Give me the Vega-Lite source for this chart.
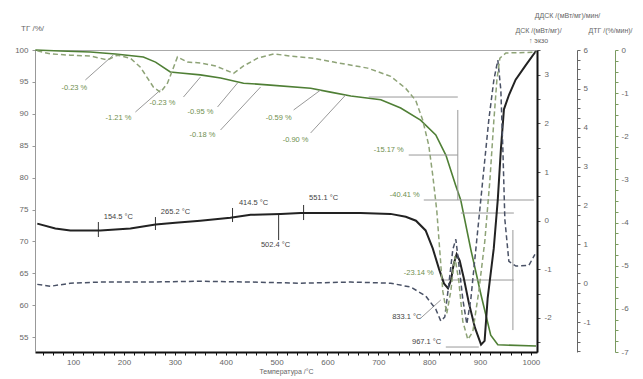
{
  "$schema": "https://vega.github.io/schema/vega-lite/v6.json",
  "width": 502,
  "height": 302,
  "autosize": "none",
  "padding": {"left": 35, "top": 50, "right": 106, "bottom": 27},
  "background": "white",
  "config": {
    "view": {"stroke": "#aaa", "strokeWidth": 1},
    "font": "Liberation Sans",
    "axis": {"labelFont": "Liberation Sans", "titleFont": "Liberation Sans", "grid": false, "labelColor": "#666", "titleColor": "#666", "labelFontSize": 8, "titleFontSize": 7, "titleFontWeight": "normal", "tickSize": 3}
  },
  "datasets": {
    "tg": [
      {"t": 25.6, "tg": 100}, {"t": 74.8, "tg": 99.84}, {"t": 133.9, "tg": 99.69}, {"t": 183, "tg": 99.37},
      {"t": 238, "tg": 98.9}, {"t": 262, "tg": 98.1}, {"t": 291, "tg": 96.55}, {"t": 311, "tg": 96.4},
      {"t": 350, "tg": 96.1}, {"t": 390, "tg": 95.6}, {"t": 435, "tg": 94.8}, {"t": 488, "tg": 94.5},
      {"t": 567, "tg": 94.0}, {"t": 606, "tg": 93.4}, {"t": 646, "tg": 92.8}, {"t": 705, "tg": 92.2},
      {"t": 744, "tg": 90.9}, {"t": 783, "tg": 89.0}, {"t": 813, "tg": 86.7}, {"t": 833, "tg": 83.5},
      {"t": 852, "tg": 78.8}, {"t": 862, "tg": 76.5}, {"t": 882, "tg": 68.7}, {"t": 902, "tg": 61.6},
      {"t": 921, "tg": 55.3}, {"t": 935, "tg": 53.8}, {"t": 1010, "tg": 53.6}
    ],
    "dsc": [
      {"t": 29.5, "dsc": -0.06}, {"t": 65, "dsc": -0.16}, {"t": 94.5, "dsc": -0.2}, {"t": 153.5, "dsc": -0.2},
      {"t": 212.6, "dsc": -0.16}, {"t": 262, "dsc": -0.08}, {"t": 301, "dsc": -0.04}, {"t": 350, "dsc": 0.0},
      {"t": 409, "dsc": 0.06}, {"t": 449, "dsc": 0.12}, {"t": 508, "dsc": 0.14}, {"t": 547, "dsc": 0.16},
      {"t": 665, "dsc": 0.16}, {"t": 724, "dsc": 0.14}, {"t": 754, "dsc": 0.08}, {"t": 774, "dsc": 0.0},
      {"t": 793, "dsc": -0.2}, {"t": 807, "dsc": -0.57}, {"t": 819, "dsc": -0.98}, {"t": 829, "dsc": -1.29},
      {"t": 837, "dsc": -1.39}, {"t": 843, "dsc": -1.22}, {"t": 848, "dsc": -0.9}, {"t": 854, "dsc": -0.69},
      {"t": 860, "dsc": -0.82}, {"t": 868, "dsc": -1.18}, {"t": 878, "dsc": -1.69}, {"t": 890, "dsc": -2.2},
      {"t": 902, "dsc": -2.55}, {"t": 909, "dsc": -2.47}, {"t": 915, "dsc": -1.59}, {"t": 927, "dsc": -0.57},
      {"t": 935, "dsc": 0.45}, {"t": 941, "dsc": 1.47}, {"t": 947, "dsc": 2.29}, {"t": 957, "dsc": 2.59},
      {"t": 970, "dsc": 2.9}, {"t": 990, "dsc": 3.2}, {"t": 1010, "dsc": 3.49}
    ],
    "ddsc": [
      {"t": 29.5, "ddsc": -0.03}, {"t": 55.1, "ddsc": -0.08}, {"t": 94.5, "ddsc": 0.0}, {"t": 153.5, "ddsc": 0.03},
      {"t": 252, "ddsc": 0.03}, {"t": 350.4, "ddsc": 0.05}, {"t": 448.8, "ddsc": 0.03}, {"t": 547.2, "ddsc": 0.0},
      {"t": 645.7, "ddsc": 0.03}, {"t": 724.4, "ddsc": 0.0}, {"t": 763.8, "ddsc": -0.1}, {"t": 793.3, "ddsc": -0.33},
      {"t": 813, "ddsc": -0.67}, {"t": 822.8, "ddsc": -0.97}, {"t": 830.7, "ddsc": -0.87}, {"t": 838.6, "ddsc": -0.03},
      {"t": 846.5, "ddsc": 0.87}, {"t": 852.4, "ddsc": 1.13}, {"t": 858.3, "ddsc": 0.49}, {"t": 866.1, "ddsc": -0.41},
      {"t": 874, "ddsc": -1.05}, {"t": 881.9, "ddsc": -0.41}, {"t": 893.7, "ddsc": 1.13}, {"t": 905.5, "ddsc": 2.67},
      {"t": 917.3, "ddsc": 4.21}, {"t": 927.2, "ddsc": 5.23}, {"t": 935, "ddsc": 5.74}, {"t": 940.9, "ddsc": 4.97},
      {"t": 944.9, "ddsc": 3.44}, {"t": 948.8, "ddsc": 1.64}, {"t": 956.7, "ddsc": 0.56}, {"t": 970.5, "ddsc": 0.44},
      {"t": 996.1, "ddsc": 0.46}, {"t": 1007.9, "ddsc": 0.74}
    ],
    "dtg": [
      {"t": 29.5, "dtg": -0.02}, {"t": 55.1, "dtg": -0.09}, {"t": 94.5, "dtg": -0.12}, {"t": 133.9, "dtg": -0.14},
      {"t": 167.3, "dtg": -0.23}, {"t": 187, "dtg": -0.12}, {"t": 212.6, "dtg": -0.19}, {"t": 232.3, "dtg": -0.4},
      {"t": 257.9, "dtg": -0.86}, {"t": 271.7, "dtg": -0.98}, {"t": 285.4, "dtg": -0.77}, {"t": 295.3, "dtg": -0.47},
      {"t": 305.1, "dtg": -0.16}, {"t": 324.8, "dtg": -0.28}, {"t": 350.4, "dtg": -0.3}, {"t": 379.9, "dtg": -0.37},
      {"t": 415.4, "dtg": -0.54}, {"t": 435, "dtg": -0.37}, {"t": 462.6, "dtg": -0.19}, {"t": 494.1, "dtg": -0.09},
      {"t": 527.6, "dtg": -0.14}, {"t": 572.8, "dtg": -0.19}, {"t": 612.2, "dtg": -0.28}, {"t": 679.1, "dtg": -0.42},
      {"t": 724.4, "dtg": -0.61}, {"t": 753.9, "dtg": -0.89}, {"t": 773.6, "dtg": -1.17}, {"t": 787.4, "dtg": -1.63},
      {"t": 799.2, "dtg": -2.21}, {"t": 807.1, "dtg": -2.91}, {"t": 815, "dtg": -3.73}, {"t": 820.9, "dtg": -4.66},
      {"t": 826.8, "dtg": -5.59}, {"t": 834.6, "dtg": -6.11}, {"t": 842.5, "dtg": -5.59}, {"t": 850.4, "dtg": -4.78},
      {"t": 858.3, "dtg": -5.36}, {"t": 866.1, "dtg": -6.29}, {"t": 876, "dtg": -6.71}, {"t": 885.8, "dtg": -6.53},
      {"t": 897.6, "dtg": -5.59}, {"t": 909.4, "dtg": -4.43}, {"t": 919.3, "dtg": -3.03}, {"t": 927.2, "dtg": -1.63},
      {"t": 933.1, "dtg": -0.7}, {"t": 939, "dtg": -0.19}, {"t": 950.8, "dtg": -0.07}, {"t": 1010, "dtg": -0.05}
    ],
    "pct": [
      {"t": 102.4, "tg": 94.04, "label": "-0.23 %"},
      {"t": 189, "tg": 89.34, "label": "-1.21 %"},
      {"t": 275.6, "tg": 91.69, "label": "-0.23 %"},
      {"t": 350.4, "tg": 90.28, "label": "-0.95 %"},
      {"t": 354.3, "tg": 86.68, "label": "-0.18 %"},
      {"t": 504, "tg": 89.34, "label": "-0.59 %"},
      {"t": 537.4, "tg": 85.89, "label": "-0.90 %"},
      {"t": 720.5, "tg": 84.33, "label": "-15.17 %"},
      {"t": 752, "tg": 77.27, "label": "-40.41 %"},
      {"t": 779.5, "tg": 65.05, "label": "-23.14 %"}
    ],
    "temps": [
      {"t": 189, "tg": 73.82, "label": "154.5 °C"},
      {"t": 301.2, "tg": 74.61, "label": "265.2 °C"},
      {"t": 454.7, "tg": 76.02, "label": "414.5 °C"},
      {"t": 592.5, "tg": 76.8, "label": "551.1 °C"},
      {"t": 498, "tg": 69.44, "label": "502.4 °C"},
      {"t": 756, "tg": 58.15, "label": "833.1 °C"},
      {"t": 795, "tg": 54.23, "label": "967.1 °C"}
    ],
    "leaders": [
      {"t": 124, "tg": 95.3, "t2": 179.1, "tg2": 99.22},
      {"t": 222.4, "tg": 90.28, "t2": 271.7, "tg2": 93.73},
      {"t": 316.9, "tg": 92.63, "t2": 350.4, "tg2": 95.77},
      {"t": 383.9, "tg": 91.07, "t2": 423.2, "tg2": 94.83},
      {"t": 389.8, "tg": 87.46, "t2": 468.5, "tg2": 94.2},
      {"t": 533.5, "tg": 90.6, "t2": 586.6, "tg2": 93.73},
      {"t": 567, "tg": 87.0, "t2": 635.8, "tg2": 92.95},
      {"t": 681.1, "tg": 92.63, "t2": 856.3, "tg2": 92.63},
      {"t": 759.8, "tg": 83.54, "t2": 856.3, "tg2": 83.54},
      {"t": 856.3, "tg": 90.6, "t2": 856.3, "tg2": 76.49},
      {"t": 789.4, "tg": 76.49, "t2": 1005.9, "tg2": 76.49},
      {"t": 862.2, "tg": 74.45, "t2": 966.5, "tg2": 74.45},
      {"t": 964.6, "tg": 71.79, "t2": 964.6, "tg2": 56.11},
      {"t": 822.8, "tg": 63.95, "t2": 966.5, "tg2": 63.95},
      {"t": 783.5, "tg": 57.99, "t2": 822.8, "tg2": 60.82},
      {"t": 832.7, "tg": 53.45, "t2": 897.6, "tg2": 53.45}
    ],
    "marks": [
      {"t": 149.6, "tg": 73.04, "t2": 149.6, "tg2": 70.69},
      {"t": 261.8, "tg": 73.82, "t2": 261.8, "tg2": 71.79},
      {"t": 413.4, "tg": 75.24, "t2": 413.4, "tg2": 73.04},
      {"t": 553.1, "tg": 75.71, "t2": 553.1, "tg2": 73.35},
      {"t": 504, "tg": 74.14, "t2": 504, "tg2": 70.22}
    ]
  },
  "encoding": {
    "x": {"field": "t", "type": "quantitative", "scale": {"domain": [25, 1012], "nice": false, "zero": false},
      "axis": {"title": "Температура /°C", "values": [40,60,80,100,120,140,160,180,200,220,240,260,280,300,320,340,360,380,400,420,440,460,480,500,520,540,560,580,600,620,640,660,680,700,720,740,760,780,800,820,840,860,880,900,920,940,960,980,1000],
        "labelExpr": "datum.value % 100 === 0 ? '' + datum.value : ''", "labelOverlap": false, "domainColor": "#111", "domainWidth": 2, "tickColor": "#111", "tickSize": 3, "labelPadding": 3, "titlePadding": 1, "labelFlush": false}}
  },
  "layer": [
    {
      "encoding": {
        "y": {"field": "tg", "type": "quantitative", "scale": {"domain": [52.67, 100], "nice": false, "zero": false},
          "axis": {"title": "ТГ /%/", "values": [55,60,65,70,75,80,85,90,95,100], "titleAngle": 0, "titleX": -3, "titleY": -22, "titleAlign": "center", "titleBaseline": "middle", "titleFontSize": 8, "domainColor": "#999", "tickColor": "#999", "labelPadding": 4}}
      },
      "layer": [
        {
          "data": {"name": "tg"},
          "mark": {"type": "line", "color": "#4f7f35", "strokeWidth": 1.6}
        },
        {
          "data": {"name": "leaders"},
          "mark": {"type": "rule", "color": "#999", "strokeWidth": 1},
          "encoding": {"x2": {"field": "t2"}, "y2": {"field": "tg2"}}
        },
        {
          "data": {"name": "marks"},
          "mark": {"type": "rule", "color": "#333", "strokeWidth": 1},
          "encoding": {"x2": {"field": "t2"}, "y2": {"field": "tg2"}}
        },
        {
          "data": {"name": "pct"},
          "mark": {"type": "text", "color": "#6f8f4f", "fontSize": 7.5, "font": "Liberation Sans"},
          "encoding": {"text": {"field": "label"}}
        },
        {
          "data": {"name": "temps"},
          "mark": {"type": "text", "color": "#444", "fontSize": 7.5, "font": "Liberation Sans"},
          "encoding": {"text": {"field": "label"}}
        }
      ]
    },
    {
      "data": {"name": "dsc"},
      "mark": {"type": "line", "color": "#222", "strokeWidth": 2},
      "encoding": {
        "y": {"field": "dsc", "type": "quantitative", "scale": {"domain": [-2.7, 3.51], "nice": false, "zero": false},
          "axis": {"orient": "right", "offset": 0, "title": ["ДСК /(мВт/мг)/", "↑ экзо"], "titleAngle": 0, "titleX": 1, "titleY": -20, "titleAlign": "center", "titleBaseline": "middle", "titleLineHeight": 10,
            "values": [-2.5,-2,-1.5,-1,-0.5,0,0.5,1,1.5,2,2.5,3,3.5], "labelOverlap": false, "labelExpr": "datum.value % 1 === 0 ? '' + datum.value : ''",
            "domainColor": "#111", "domainWidth": 2, "tickColor": "#555", "labelPadding": 4}}
      }
    },
    {
      "data": {"name": "ddsc"},
      "mark": {"type": "line", "color": "#4a5266", "strokeWidth": 1.5, "strokeDash": [5, 3]},
      "encoding": {
        "y": {"field": "ddsc", "type": "quantitative", "scale": {"domain": [-1.77, 6], "nice": false, "zero": false},
          "axis": {"orient": "right", "offset": 40, "title": "ДДСК /(мВт/мг)/мин/", "titleAngle": 0, "titleX": -10, "titleY": -35, "titleAlign": "center", "titleBaseline": "middle",
            "values": [-1.75,-1.5,-1.25,-1,-0.75,-0.5,-0.25,0,0.25,0.5,0.75,1,1.25,1.5,1.75,2,2.25,2.5,2.75,3,3.25,3.5,3.75,4,4.25,4.5,4.75,5,5.25,5.5,5.75,6],
            "labelOverlap": false, "labelExpr": "datum.value % 1 === 0 ? '' + datum.value : ''", "domainColor": "#666", "tickColor": "#666", "labelPadding": 3}}
      }
    },
    {
      "data": {"name": "dtg"},
      "mark": {"type": "line", "color": "#8ea377", "strokeWidth": 1.5, "strokeDash": [5, 3]},
      "encoding": {
        "y": {"field": "dtg", "type": "quantitative", "scale": {"domain": [-7, 0], "nice": false, "zero": false},
          "axis": {"orient": "right", "offset": 78, "title": "ДТГ /(%/мин)/", "titleAngle": 0, "titleX": -5, "titleY": -20, "titleAlign": "center", "titleBaseline": "middle",
            "values": [-7,-6.75,-6.5,-6.25,-6,-5.75,-5.5,-5.25,-5,-4.75,-4.5,-4.25,-4,-3.75,-3.5,-3.25,-3,-2.75,-2.5,-2.25,-2,-1.75,-1.5,-1.25,-1,-0.75,-0.5,-0.25,0],
            "labelOverlap": false, "labelExpr": "datum.value % 1 === 0 ? '' + datum.value : ''", "domainColor": "#7a9a60", "tickColor": "#7a9a60", "labelPadding": 3}}
      }
    }
  ],
  "resolve": {"scale": {"y": "independent"}, "axis": {"y": "independent"}}
}
